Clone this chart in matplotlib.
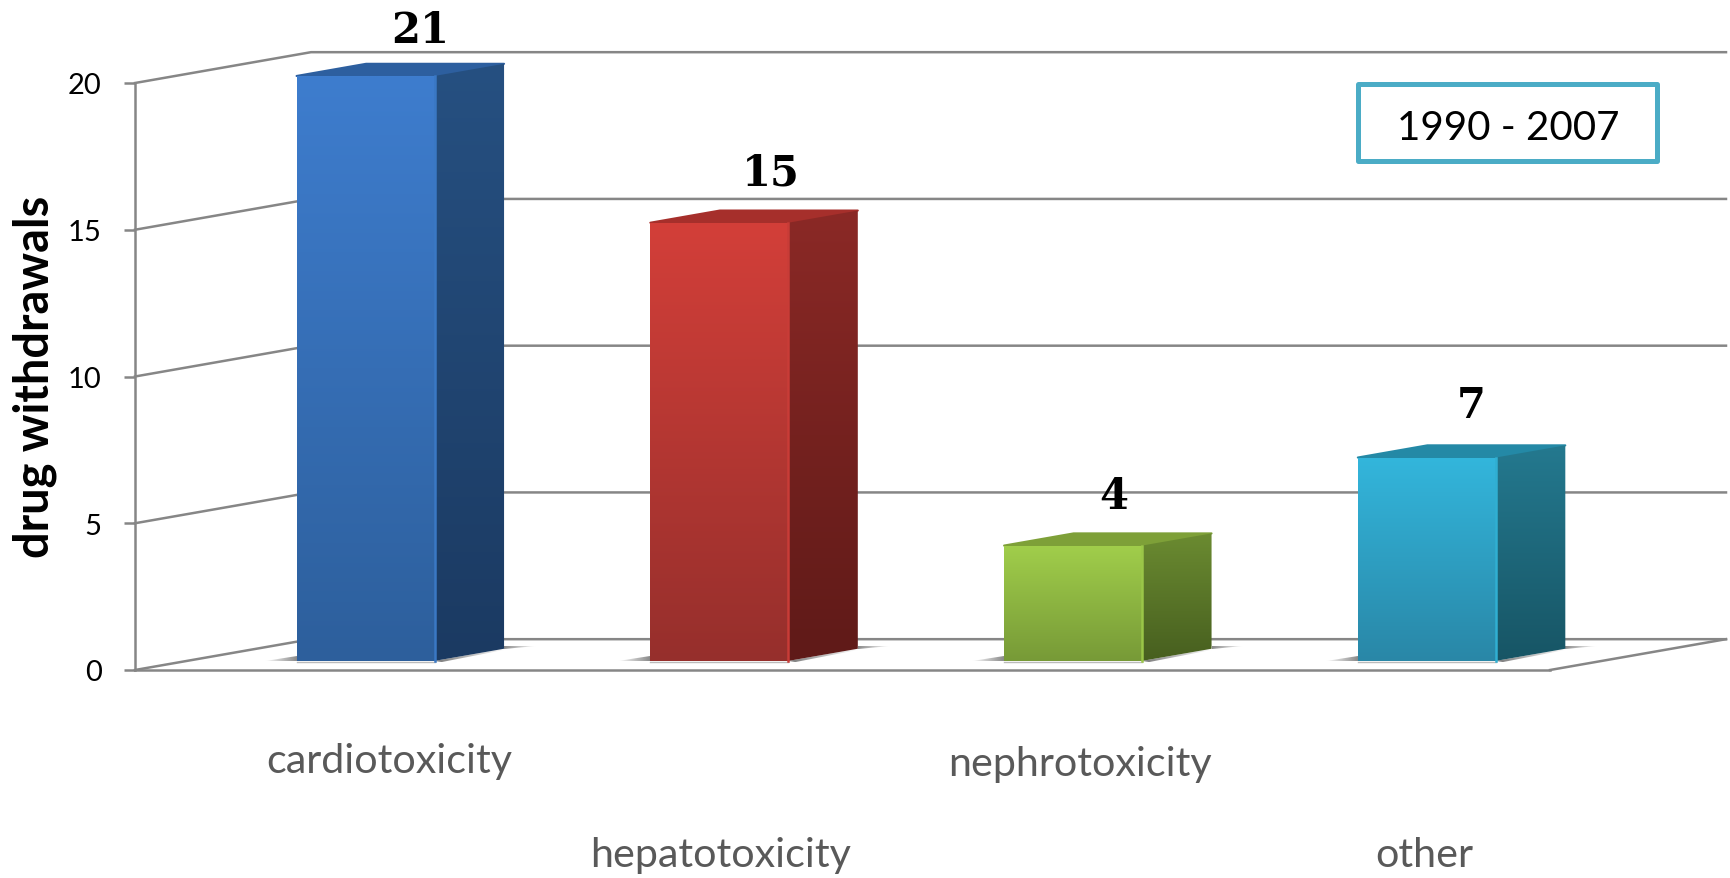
#!/usr/bin/env python3
# -*- coding: utf-8 -*-
import numpy as np
import matplotlib
matplotlib.use('Agg')
import matplotlib.pyplot as plt
from matplotlib.colors import LinearSegmentedColormap
from matplotlib.patches import Polygon, Rectangle

# data
categories = ['cardiotoxicity', 'hepatotoxicity', 'nephrotoxicity', 'other']
values = [21, 15, 4, 7]
yticks = [0, 5, 10, 15, 20]
ylabel = 'drug withdrawals'
period = '1990 - 2007'

# colours per bar: front top/bottom, side top/bottom, top face
front_top = ['#3E7DCE', '#D33F39', '#A1CE4B', '#33B6DC']
front_bot = ['#2D5F9C', '#962F2C', '#779A37', '#2987A7']
side_top = ['#265081', '#8B2926', '#6B8B31', '#24798F']
side_bot = ['#1B3A62', '#5F1A18', '#475F1F', '#175565']
top_face = ['#2D5F9F', '#A62F2B', '#7EA038', '#2489A6']
edge_light = ['#3A78C4', '#C83C37', '#9AC648', '#30AFD2']

# label placing, in category units / value units
label_dx = [0.22, 0.155, 0.17, 0.145]
label_y = [-3.1, -6.3, -3.2, -6.3]
value_dx = [0.16, 0.15, 0.12, 0.13]
value_dy = [1.15, 1.28, 1.28, 1.38]

W, H = 1731, 879
YMAX = 20
BAR_W = 0.39
BAR_SHIFT = 0.005
TOP_TRIM = 0.07
# oblique projection of the 3D box, per unit of depth
DX = 0.4975
DY = 1.05
D0 = 0.295
D1 = 0.69
GRID = '#868686'

plt.rcParams['font.family'] = ['Lato', 'DejaVu Sans']

fig = plt.figure(figsize=(W / 100, H / 100), dpi=100)
ax = fig.add_axes([135 / W, (H - 671) / H, 1415 / W, 587 / H])
ax.set_xlim(0, 4)
ax.set_ylim(0, YMAX)


def gradient(poly, c1, c2, zorder, horizontal=False):
    # fills a polygon with a linear gradient, clipped on the polygon
    poly = np.array(poly)
    cmap = LinearSegmentedColormap.from_list('g', [c1, c2])
    grad = np.linspace(0, 1, 256)
    grad = grad.reshape(1, -1) if horizontal else grad.reshape(-1, 1)
    ext = [poly[:, 0].min(), poly[:, 0].max(), poly[:, 1].min(), poly[:, 1].max()]
    im = ax.imshow(grad, cmap=cmap, extent=ext, origin='upper', aspect='auto',
                   zorder=zorder, interpolation='bilinear')
    patch = Polygon(poly, closed=True, transform=ax.transData, fc='none', ec='none')
    ax.add_patch(patch)
    patch.set_clip_on(False)
    im.set_clip_box(fig.bbox)
    im.set_clip_path(patch)


# walls and floor lines
for t in yticks:
    ax.plot([0, DX, 4 + DX], [t, t + DY, t + DY], color=GRID, lw=1.8, zorder=1,
            clip_on=False, solid_joinstyle='round')
ax.plot([4, 4 + DX], [0, DY], color=GRID, lw=1.8, zorder=1, clip_on=False)

for i, v in enumerate(values):
    h = min(v, YMAX)  # axis stops at 20, the first bar is cut there
    x0 = i + 0.5 - BAR_W / 2 + D0 * DX + BAR_SHIFT
    x1 = x0 + BAR_W
    y0 = D0 * DY
    y1 = y0 + h - TOP_TRIM
    sx = (D1 - D0) * DX
    sy = (D1 - D0) * DY

    # shadows on the floor
    gradient([(x0 - 0.09, y0), (x0, y0), (x0, y0 + 0.16)], '#FFFFFF', '#8A8A8A', 2, horizontal=True)
    gradient([(x1 + sx, y0 + sy - 0.02), (x1 + sx, y0 + sy + 0.1), (x1 + sx + 0.09, y0 + sy + 0.1)],
             '#8A8A8A', '#FFFFFF', 2, horizontal=True)
    gradient([(x1, y0), (x1 + sx, y0 + sy), (x1 + sx, y0 + sy - 0.04), (x1 + 0.02, y0 - 0.04)],
             '#777777', '#FFFFFF', 2, horizontal=True)
    ax.plot([x0, x1], [y0 - 0.03, y0 - 0.03], color='#BBBBBB', lw=1, zorder=2, clip_on=False)

    # top, side, front faces
    ax.add_patch(Polygon([(x0, y1), (x1, y1), (x1 + sx, y1 + sy), (x0 + sx, y1 + sy)], closed=True,
                         fc=top_face[i], ec=top_face[i], lw=1.5, joinstyle='round', zorder=3, clip_on=False))
    gradient([(x1, y0), (x1 + sx, y0 + sy), (x1 + sx, y1 + sy), (x1, y1)],
             side_top[i], side_bot[i], 3)
    gradient([(x0, y0), (x1, y0), (x1, y1), (x0, y1)], front_top[i], front_bot[i], 4)
    ax.plot([x1, x1], [y0, y1], color=edge_light[i], lw=1.8, zorder=5, clip_on=False)

    # value on top of the bar
    ax.text(i + 0.5 + D0 * DX + value_dx[i], y1 + sy + value_dy[i], str(v), ha='center', va='center',
            family='DejaVu Serif', fontweight='bold', fontsize=30, color='black', zorder=6)

    # staggered category label under the floor
    ax.text(i + 0.5 + label_dx[i], label_y[i], categories[i], ha='center', va='center',
            fontsize=29.7, color='#595959', clip_on=False)

ax.set_xlim(0, 4)
ax.set_ylim(0, YMAX)

# axis
for s in ['top', 'right']:
    ax.spines[s].set_visible(False)
for s in ['left', 'bottom']:
    ax.spines[s].set_color(GRID)
    ax.spines[s].set_linewidth(1.8)
ax.set_xticks([])
ax.set_yticks(yticks)
ax.tick_params(axis='y', length=8, width=1.8, color=GRID, pad=16, labelsize=21, labelcolor='black')
ax.patch.set_visible(False)

fig.text(35 / W, 1 - 377 / H, ylabel, rotation=90, ha='center', va='center',
         fontsize=33.8, fontweight='bold', color='black')

# period box
fig.add_artist(Rectangle((1358.5 / W, 1 - 161.5 / H), 299 / W, 77 / H, transform=fig.transFigure,
                         fc='white', ec='#4BACC6', lw=3.6, joinstyle='round'))
fig.text(1508 / W, 1 - 128 / H, period, ha='center', va='center', fontsize=29, color='black')

fig.savefig('out.png', dpi=100)
